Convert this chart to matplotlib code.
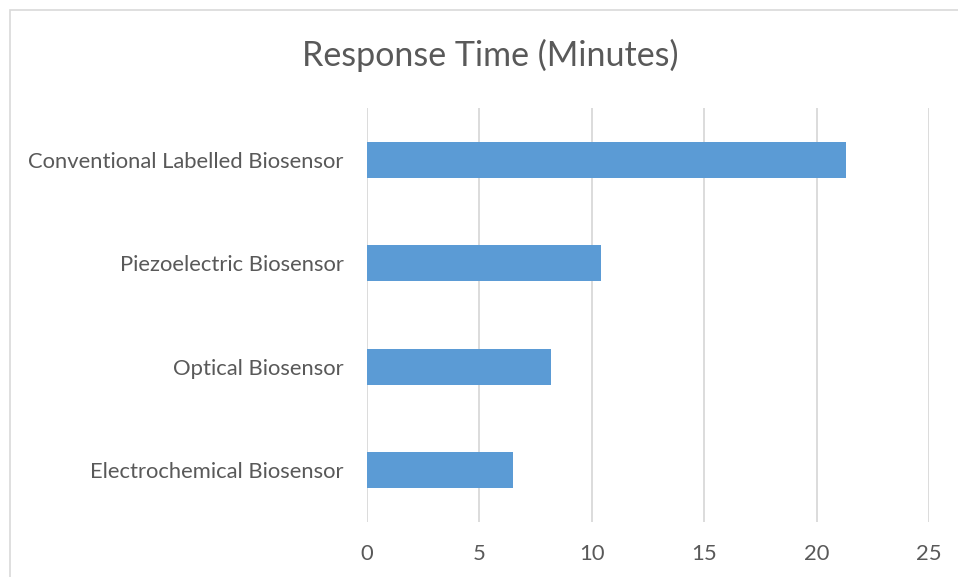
import matplotlib.pyplot as plt
from matplotlib.patches import Rectangle

categories = ['Electrochemical Biosensor', 'Optical Biosensor',
              'Piezoelectric Biosensor', 'Conventional Labelled Biosensor']
response_time = [6.5, 8.2, 10.4, 21.3]
x_ticks = [0, 5, 10, 15, 20, 25]

plt.rcParams['font.family'] = ['Lato', 'DejaVu Sans']
text_color = '#595959'

fig = plt.figure(figsize=(9.58, 5.77), dpi=100)
ax = fig.add_axes([367 / 958, 1 - 522 / 577, 562 / 958, 414 / 577])

# chart border like excel
fig.patches.append(Rectangle((9.5 / 958, -0.1), 1.0, 1.1 - 10 / 577,
                             transform=fig.transFigure, fill=False,
                             edgecolor='#d9d9d9', linewidth=1.2))

ax.barh(range(len(categories)), response_time, height=0.35,
        color='#5b9bd5', zorder=3)

ax.set_xlim(0, 25)
ax.set_ylim(-0.5, len(categories) - 0.5)
ax.set_xticks(x_ticks)
ax.set_yticks(range(len(categories)))
ax.set_yticklabels(categories)
ax.grid(axis='x', color='#d9d9d9', linewidth=1.3, zorder=0)
ax.grid(axis='y', visible=False)
for s in ax.spines.values():
    s.set_visible(False)
ax.tick_params(axis='both', length=0, labelsize=15.8, labelcolor=text_color)
ax.tick_params(axis='x', pad=16)
ax.tick_params(axis='y', pad=17)

fig.text(490 / 958, 1 - 55 / 577, 'Response Time (Minutes)', ha='center',
         va='center', fontsize=24.5, color=text_color)

fig.savefig('out.png', dpi=100)
